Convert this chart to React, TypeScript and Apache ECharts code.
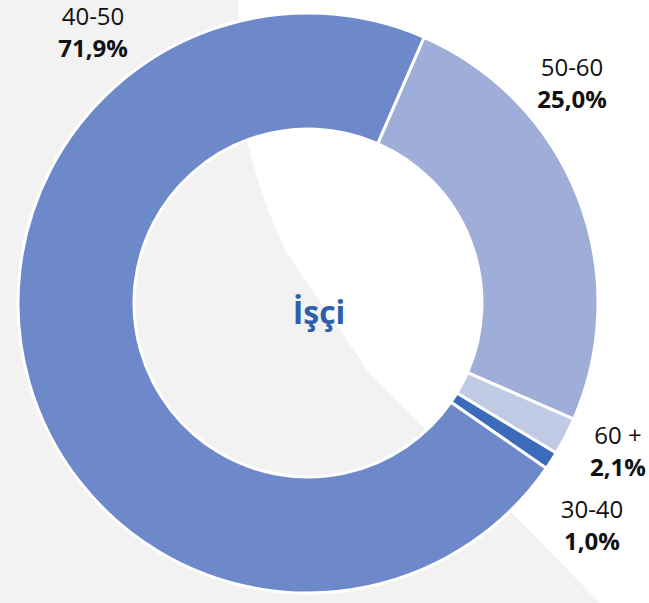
import React, { useEffect, useRef } from "react";
import * as echarts from "echarts";

const categories = ["50-60", "60 +", "30-40", "40-50"];
const values = [25.0, 2.1, 1.0, 71.9];
const sliceColors = ["#9EAED8", "#C0CAE4", "#3D6BBB", "#6E89CA"];
const labelPos = [
  [572, 82],
  [618, 450],
  [592, 524],
  [93, 31],
];
const centerTitle = "İşçi";
const bgShape = [
  [0, 0],
  [238, 0],
  [240, 50],
  [243, 100],
  [248, 145],
  [258, 180],
  [270, 215],
  [285, 250],
  [312, 290],
  [340, 330],
  [367, 370],
  [398, 402],
  [429, 433],
  [473, 475],
  [517, 518],
  [600, 603],
  [0, 603],
];

export default function App() {
  const ref = useRef<HTMLDivElement>(null);
  useEffect(() => {
    if (!ref.current) return;
    const chart = echarts.init(ref.current, null, { renderer: "svg" });
    const fmt = (v: number) => v.toFixed(1).replace(".", ",") + "%";
    chart.setOption({
      animation: false,
      backgroundColor: "#ffffff",
      graphic: [
        {
          type: "polygon",
          z: -10,
          silent: true,
          shape: { points: bgShape },
          style: { fill: "#F2F2F2" },
        },
        {
          type: "text",
          z: 100,
          x: 319,
          y: 311,
          style: {
            text: centerTitle,
            fill: "#2F5FAA",
            font: "bold 32px 'Open Sans'",
            textAlign: "center",
            textVerticalAlign: "middle",
          },
        },
      ],
      series: [
        {
          type: "pie",
          center: [308, 303],
          radius: [174, 290],
          startAngle: 66.4,
          clockwise: true,
          avoidLabelOverlap: false,
          itemStyle: { borderColor: "#ffffff", borderWidth: 3 },
          label: {
            show: true,
            position: "outside",
            formatter: (p: any) => `{n|${p.name}}\n{p|${fmt(p.value)}}`,
            rich: {
              n: {
                fontFamily: "Open Sans",
                fontSize: 24,
                color: "#111111",
                lineHeight: 32,
                align: "center",
              },
              p: {
                fontFamily: "Open Sans",
                fontSize: 24,
                fontWeight: "bold",
                color: "#111111",
                lineHeight: 32,
                align: "center",
              },
            },
          },
          labelLine: { show: false },
          labelLayout: (params: any) => ({
            x: labelPos[params.dataIndex][0],
            y: labelPos[params.dataIndex][1],
            align: "center",
            verticalAlign: "middle",
          }),
          emphasis: { disabled: true },
          data: categories.map((c, i) => ({
            name: c,
            value: values[i],
            itemStyle: { color: sliceColors[i] },
          })),
        },
      ],
    });
    return () => chart.dispose();
  }, []);
  return (
    <div
      ref={ref}
      style={{ position: "absolute", left: 0, top: 0, width: 649, height: 603 }}
    />
  );
}
